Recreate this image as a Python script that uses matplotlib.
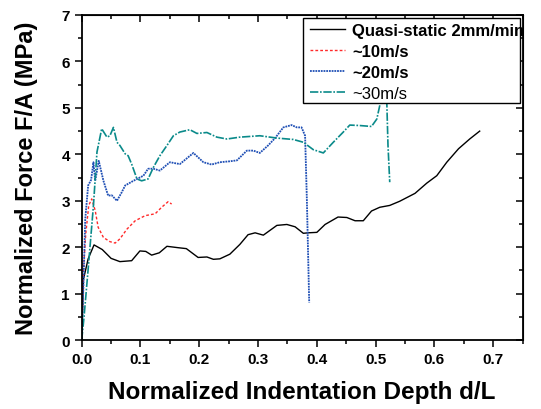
import numpy as np
import matplotlib
matplotlib.use('Agg')
import matplotlib.pyplot as plt
from matplotlib.patches import Rectangle
from matplotlib.ticker import MultipleLocator, FormatStrFormatter

plt.rcParams['font.family'] = ['Liberation Sans', 'DejaVu Sans']

# quasi-static 2mm/min
qs_x = [0.0, 0.003, 0.011, 0.021, 0.035, 0.05, 0.065, 0.085, 0.099, 0.109, 0.119, 0.132, 0.145,
        0.164, 0.178, 0.198, 0.213, 0.224, 0.235, 0.252, 0.269, 0.283, 0.295, 0.309, 0.332, 0.349,
        0.363, 0.377, 0.385, 0.400, 0.414, 0.436, 0.451, 0.465, 0.479, 0.493, 0.507, 0.524, 0.541,
        0.567, 0.587, 0.604, 0.621, 0.641, 0.660, 0.677]
qs_y = [0.0, 1.31, 1.75, 2.05, 1.95, 1.76, 1.69, 1.71, 1.92, 1.91, 1.83, 1.88, 2.02,
        1.99, 1.97, 1.78, 1.79, 1.74, 1.75, 1.85, 2.06, 2.27, 2.31, 2.26, 2.47, 2.49,
        2.44, 2.30, 2.31, 2.32, 2.49, 2.65, 2.64, 2.57, 2.57, 2.78, 2.86, 2.90, 2.99,
        3.16, 3.38, 3.54, 3.83, 4.12, 4.33, 4.50]

# ~10 m/s
v10_x = [0.0, 0.003, 0.007, 0.012, 0.017, 0.023, 0.028, 0.037, 0.048, 0.057, 0.065, 0.077,
         0.091, 0.108, 0.125, 0.136, 0.147, 0.153]
v10_y = [0.0, 1.53, 2.30, 2.90, 3.04, 2.79, 2.43, 2.21, 2.12, 2.09, 2.18, 2.39,
         2.57, 2.68, 2.72, 2.86, 2.98, 2.93]

# ~20 m/s
v20_x = [0.0, 0.003, 0.006, 0.011, 0.016, 0.020, 0.023, 0.029, 0.037, 0.045, 0.051, 0.060,
         0.068, 0.074, 0.088, 0.105, 0.113, 0.122, 0.133, 0.150, 0.167, 0.190, 0.207, 0.221,
         0.235, 0.252, 0.264, 0.281, 0.292, 0.303, 0.317, 0.329, 0.343, 0.357, 0.366, 0.374,
         0.380, 0.383, 0.387]
v20_y = [0.0, 1.2, 2.6, 3.33, 3.45, 3.83, 3.43, 3.86, 3.43, 3.11, 3.12, 3.00,
         3.18, 3.33, 3.43, 3.54, 3.69, 3.69, 3.65, 3.83, 3.79, 4.03, 3.83, 3.78,
         3.83, 3.85, 3.87, 4.08, 4.08, 4.03, 4.19, 4.35, 4.58, 4.63, 4.58, 4.58,
         4.40, 3.04, 0.81]

# ~30 m/s
v30_x = [0.0, 0.004, 0.011, 0.020, 0.026, 0.034, 0.043, 0.048, 0.054, 0.060, 0.065, 0.074,
         0.079, 0.085, 0.094, 0.102, 0.113, 0.122, 0.133, 0.145, 0.156, 0.167, 0.184, 0.196,
         0.213, 0.230, 0.247, 0.269, 0.303, 0.332, 0.360, 0.377, 0.394, 0.411, 0.428, 0.445,
         0.456, 0.473, 0.493, 0.502, 0.507, 0.513, 0.519, 0.521, 0.524]
v30_y = [0.0, 0.5, 1.53, 2.90, 4.05, 4.55, 4.37, 4.40, 4.58, 4.26, 4.19, 4.01,
         3.97, 3.79, 3.47, 3.43, 3.47, 3.72, 3.97, 4.19, 4.40, 4.48, 4.53, 4.45,
         4.47, 4.37, 4.33, 4.37, 4.40, 4.35, 4.32, 4.26, 4.10, 4.03, 4.26, 4.48,
         4.63, 4.62, 4.60, 4.76, 5.05, 5.6, 5.12, 4.2, 3.40]

labels = ['Quasi-static 2mm/min', '~10m/s', '~20m/s', '~30m/s']

fig = plt.figure(figsize=(5.41, 4.10), dpi=100)
ax = fig.add_axes([0.151, 0.168, 0.815, 0.793])

ax.plot(qs_x, qs_y, color='black', lw=1.0, ls='-', label=labels[0])
ax.plot(v10_x, v10_y, color='#ff2a2a', lw=1.0, ls=(0, (2, 1.5)), label=labels[1])
ax.plot(v20_x, v20_y, color='#1f4fb5', lw=1.3, ls=(0, (1, 0.5)), label=labels[2])
ax.plot(v30_x, v30_y, color='#0a8a8a', lw=1.2, ls=(0, (5, 1, 1, 1)), label=labels[3])

ax.set_xlim(0, 0.75)
ax.set_ylim(0, 7)
ax.xaxis.set_major_locator(MultipleLocator(0.1))
ax.xaxis.set_minor_locator(MultipleLocator(0.05))
ax.xaxis.set_major_formatter(FormatStrFormatter('%.1f'))
ax.yaxis.set_major_locator(MultipleLocator(1))
ax.yaxis.set_minor_locator(MultipleLocator(0.5))

for s in ax.spines.values():
    s.set_linewidth(1.3)
ax.tick_params(which='major', direction='out', length=5, width=1.1, labelsize=11)
ax.tick_params(which='minor', direction='out', length=3, width=1.1)
for lab in ax.get_xticklabels() + ax.get_yticklabels():
    lab.set_fontweight('bold')

# mirrored ticks pointing inward on top and right
top = ax.secondary_xaxis('top')
top.xaxis.set_major_locator(MultipleLocator(0.1))
top.xaxis.set_minor_locator(MultipleLocator(0.05))
top.tick_params(which='major', direction='in', length=5, width=1.1, labeltop=False)
top.tick_params(which='minor', direction='in', length=3, width=1.1)
right = ax.secondary_yaxis('right')
right.yaxis.set_major_locator(MultipleLocator(1))
right.yaxis.set_minor_locator(MultipleLocator(0.5))
right.tick_params(which='major', direction='in', length=5, width=1.1, labelright=False)
right.tick_params(which='minor', direction='in', length=3, width=1.1)

ax.set_xlabel('Normalized Indentation Depth d/L', fontsize=17.5, fontweight='bold', labelpad=10)
ax.set_ylabel('Normalized Force F/A (MPa)', fontsize=17, fontweight='bold', labelpad=17)

# opaque legend box (text runs slightly past its right edge, as in the original)
ax.add_patch(Rectangle((0.502, 0.729), 0.493, 0.262, transform=ax.transAxes,
                       facecolor='white', edgecolor='black', lw=1.0, zorder=4))
leg = ax.legend(loc='upper left', bbox_to_anchor=(0.506, 0.993), fontsize=12,
                frameon=False, handlelength=2.1, handletextpad=0.4, labelspacing=0.36,
                borderpad=0.33, borderaxespad=0)
leg.set_zorder(5)
for i, t in enumerate(leg.get_texts()):
    if i < 3:
        t.set_fontweight('bold')

fig.savefig('out.png', dpi=100)
